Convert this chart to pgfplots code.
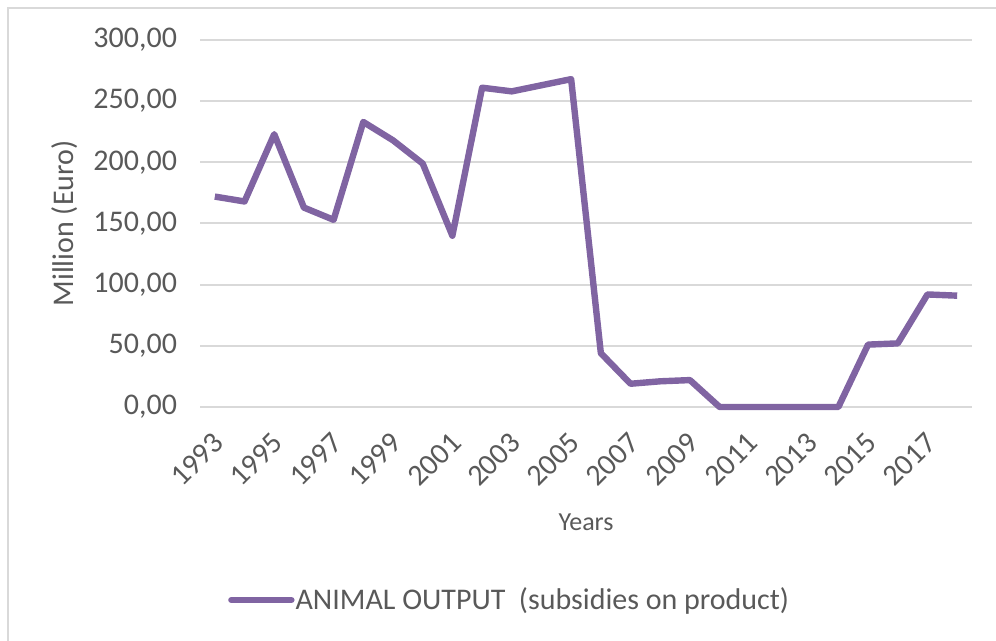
\documentclass[border=0pt]{standalone}
\usepackage{pgfplots}
\pgfplotsset{compat=1.18}
\usepackage{fontspec}
\setmainfont{Carlito}
\definecolor{linep}{HTML}{8064A2}
\definecolor{gridc}{HTML}{D9D9D9}
\definecolor{txt}{HTML}{595959}
\begin{document}
\begin{tikzpicture}
\useasboundingbox (0pt,0pt) rectangle (498pt,320.5pt);
\draw[gridc, line width=1.3pt] (4pt,0pt) -- (4pt,316.5pt) -- (498pt,316.5pt);
\begin{axis}[
  at={(100pt,117pt)}, anchor=south west,
  scale only axis, width=386pt, height=183.5pt,
  xmin=1992.5, xmax=2018.5, ymin=0, ymax=300,
  enlargelimits=false, clip=false,
  axis line style={draw=none},
  major tick style={draw=none},
  ymajorgrids, grid style={gridc, line width=1pt},
  ytick={0,50,100,150,200,250,300},
  xtick={1993,1995,1997,1999,2001,2003,2005,2007,2009,2011,2013,2015,2017},
  xticklabels={1993,1995,1997,1999,2001,2003,2005,2007,2009,2011,2013,2015,2017},
  /pgf/number format/assume math mode=true,
  yticklabel style={/pgf/number format/fixed, /pgf/number format/fixed zerofill, /pgf/number format/precision=2, /pgf/number format/use comma, /pgf/number format/1000 sep={}, xshift=-8pt},
  ticklabel style={font=\fontsize{15}{18}\selectfont, text=txt},
  xticklabel style={xshift=4.3pt, yshift=-13pt, rotate=45, anchor=east},
  ylabel={Million (Euro)},
  ylabel style={at={(axis description cs:-0.175,0.5)}, anchor=center, font=\fontsize{15}{18}\selectfont, text=txt},
  xlabel={Years},
  xlabel style={at={(axis description cs:0.5,-0.313)}, anchor=center, font=\fontsize{13}{16}\selectfont, text=txt},
  legend style={at={(axis description cs:0.036,-0.526)}, anchor=west, draw=none, fill=none,
    inner sep=0pt, font=\fontsize{15}{18}\selectfont, text=txt,
    nodes={inner sep=0.5pt}},
  legend image code/.code={\draw[#1, line cap=round] (0pt,0pt) -- (30pt,0pt);},
]
\addplot[linep, line width=3.2pt, line join=round] coordinates {
(1993,172) (1994,168) (1995,223) (1996,163) (1997,153) (1998,233) (1999,218) (2000,199)
(2001,140) (2002,261) (2003,258) (2004,263) (2005,268) (2006,44) (2007,19) (2008,21)
(2009,22) (2010,0) (2011,0) (2012,0) (2013,0) (2014,0) (2015,51) (2016,52) (2017,92) (2018,91)
};
\addlegendentry{ANIMAL OUTPUT\ \ (subsidies on product)}
\end{axis}
\end{tikzpicture}
\end{document}
